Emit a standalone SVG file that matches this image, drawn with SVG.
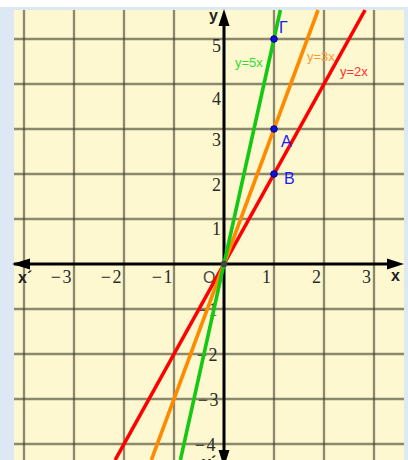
<svg xmlns="http://www.w3.org/2000/svg" width="408" height="460" viewBox="0 0 408 460">
<style>
.grid line{stroke:#3a3828;stroke-opacity:0.58;stroke-width:2.3}
.tick{font-family:"Liberation Serif","DejaVu Serif",serif;font-size:18px;fill:#2a2a2a;text-anchor:end}
.neg{letter-spacing:1.5px}
.axl{font-family:"Liberation Sans",Arial,sans-serif;font-weight:bold;font-size:16px;fill:#222}
.fn{fill:none;stroke-width:3.6;stroke-linecap:butt}
.flab{font-family:"Liberation Sans",Arial,sans-serif;font-size:13px}
.pt{fill:#1010d8;stroke:#00008a;stroke-width:1}
.plab{font-family:"Liberation Sans",Arial,sans-serif;font-size:16px;fill:#1a1aff}
</style>
<g id="background">
<rect x="0" y="0" width="408" height="460" fill="#ffffff"/>
<rect x="0" y="7" width="408" height="453" fill="#dde8f5"/>
<rect x="14" y="10" width="390" height="450" fill="#fdf8cf"/>
</g>
<g class="grid" id="grid">
<line x1="24" y1="10" x2="24" y2="460"/>
<line x1="74" y1="10" x2="74" y2="460"/>
<line x1="124" y1="10" x2="124" y2="460"/>
<line x1="174" y1="10" x2="174" y2="460"/>
<line x1="274" y1="10" x2="274" y2="460"/>
<line x1="324" y1="10" x2="324" y2="460"/>
<line x1="374" y1="10" x2="374" y2="460"/>
<line x1="14" y1="39" x2="404" y2="39"/>
<line x1="14" y1="84" x2="404" y2="84"/>
<line x1="14" y1="129" x2="404" y2="129"/>
<line x1="14" y1="174" x2="404" y2="174"/>
<line x1="14" y1="219" x2="404" y2="219"/>
<line x1="14" y1="309" x2="404" y2="309"/>
<line x1="14" y1="354" x2="404" y2="354"/>
<line x1="14" y1="399" x2="404" y2="399"/>
<line x1="14" y1="444" x2="404" y2="444"/>
</g>
<g id="tick-labels">
<text class="tick neg" x="73" y="283">−3</text>
<text class="tick neg" x="123" y="283">−2</text>
<text class="tick neg" x="174" y="283">−1</text>
<text class="tick" x="271" y="283">1</text>
<text class="tick" x="321" y="283">2</text>
<text class="tick" x="371" y="283">3</text>
<text class="tick" x="221" y="52">5</text>
<text class="tick" x="221" y="105">4</text>
<text class="tick" x="221" y="146">3</text>
<text class="tick" x="221" y="191">2</text>
<text class="tick" x="221" y="235">1</text>
<text class="tick neg" x="219" y="316">−1</text>
<text class="tick neg" x="219" y="361">−2</text>
<text class="tick neg" x="220" y="406">−3</text>
<text class="tick neg" x="217" y="451">−4</text>
<text x="203" y="283" font-family="Liberation Sans,Arial,sans-serif" font-size="16" fill="#444">O</text>
</g>
<g id="axes">
<line x1="14" y1="264" x2="392" y2="264" stroke="#000" stroke-width="3"/>
<line x1="224" y1="22" x2="224" y2="460" stroke="#000" stroke-width="3"/>
<polygon points="404,264 387,258.5 387,269.5" fill="#000"/>
<polygon points="12,264 30,258.5 30,269.5" fill="#000"/>
<polygon points="224,9 218.5,26 229.5,26" fill="#000"/>
<polygon points="224,467 218.5,450 229.5,450" fill="#000"/>
<text class="axl" x="209" y="21">y</text>
<text class="axl" x="391" y="281" font-size="15">x</text>
<text class="axl" x="18" y="283" font-size="15">x´</text>
<text class="axl" x="202" y="468">y´</text>
</g>
<g id="connectors">
<line class="fn" x1="115.1" y1="460" x2="365.1" y2="10" stroke="#ff0000"/>
<line class="fn" x1="151.4" y1="460" x2="318.1" y2="10" stroke="#ff8a00"/>
<line class="fn" x1="180.4" y1="460" x2="280.4" y2="10" stroke="#14c814"/>
</g>
<g id="line-labels">
<text class="flab" x="235" y="67" fill="#33dd33">y=5x</text>
<text class="flab" x="307" y="61" fill="#ff9a33">y=3x</text>
<text class="flab" x="340" y="76" fill="#ff3333">y=2x</text>
</g>
<g id="O"><circle cx="224" cy="264" r="3.2" fill="#444"/></g>
<g id="Gamma">
<circle class="pt" cx="274" cy="39" r="3.3"/>
<text class="plab" x="279" y="33">Γ</text>
</g>
<g id="A">
<circle class="pt" cx="274" cy="129" r="3.3"/>
<text class="plab" x="281" y="147">A</text>
</g>
<g id="B">
<circle class="pt" cx="274" cy="174" r="3.3"/>
<text class="plab" x="284" y="184">B</text>
</g>
</svg>
